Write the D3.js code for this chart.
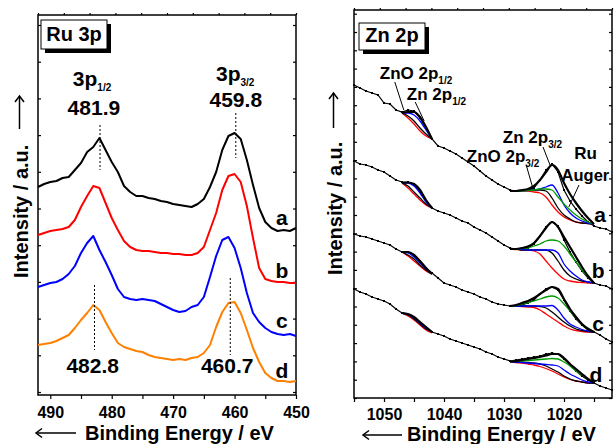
<!DOCTYPE html>
<html>
<head>
<meta charset="utf-8">
<script src="https://cdn.jsdelivr.net/npm/d3@7"></script>
<style>
  body { margin: 0; background: #fff; }
</style>
</head>
<body>
<svg id="chart" width="614" height="444"></svg>
<script>
// ---------- Ru 3p panel (left) : binding energy 492 -> 450 eV, 1 eV steps ----------
const ruEnergy = d3.range(492, 449, -1)
const ruA = [213,216,218,219,222,223,230,237,248,253, 262,250,238,228,214,208,204,204,202,201,
             199,198,196,195,194,193,196,201,213,228, 250,264,267,261,240,215,192,178,172,169, 170,169,172]
const ruB = [165,167,169,170,171,173,180,193,204,214, 212,197,182,170,159,153,150,149,149,148,
             147,147,146,146,145,145,147,153,170,187, 210,224,226,218,194,162,132,121,119,118, 118,117,117]
const ruC = [113,115,117,118,121,126,134,147,157,164, 150,138,125,111,103,101,100,101,100,99,
             96,93,90,88,89,93,95,103,123,144, 160,163,152,132,107,87,78,72,68,66, 65,66,64]
const ruD = [55,56,57,59,62,65,72,80,87,95, 90,78,67,57,53,51,49,48,45,43,
             42,41,40,41,40,42,43,47,55,73, 88,97,98,87,70,52,38,27,22,19, 19,18,19]
const ruNames = ["a", "b", "c", "d"]
const ruPeaksTop = [481.9, 459.8]
const ruPeaksBottom = [482.8, 460.7]

// ---------- Zn 2p panel (right) : binding energy 1055 -> 1012 eV ----------
const znEnergy = d3.range(1055, 1011, -1)
const znA = [315,312,309,307,305,297,296,290,288,290, 289,282,272,261,254,252,249,246,242,238,
             234,229,224,220,216,213,210,209,209,210, 212,220,230,236,228,210,199,191,184,178, 174,172,171,168]
const znB = [239,236,235,233,230,228,224,220,218,218, 216,208,199,192,189,187,185,182,179,177,
             173,170,167,163,159,155,152,151,151,152, 156,164,173,178,174,160,148,138,129,122, 117,115,114,111]
const znC = [166,164,163,161,159,157,155,151,148,148, 145,139,132,127,122,117,115,113,110,108,
             106,103,101,98,96,95,94,94,95,97, 100,106,111,113,110,100,89,81,75,70, 68,65,61,58]
const znD = [111,108,106,103,101,99,96,91,87,85, 82,77,72,68,66,64,61,59,57,55,
             53,51,48,46,43,41,39,40,41,42, 43,44,46,47,46,41,35,29,24,20, 17,14,12,10]

// fit windows: 2p1/2 (1047 -> 1042) and 2p3/2 + Ru Auger (1029 -> 1015)
const win1Energy = d3.range(1047, 1041, -1)
const win2Energy = d3.range(1029, 1014, -1)

const aEnv1 = [287,288,288,283,273,261], aZn1 = [287,287,285,279,270,261]
const aZnO1 = [287,284,279,272,266,261], aBg1 = [287,282,276,269,264,261]
const bEnv1 = [217,217.5,216,210,200,192], bZn1 = [217,217,214,207,198,192]
const bZnO1 = [217,214,208,202,196,192], bBg1 = [217,212,206,200,195,192]
const cEnv1 = [148,148,145,139,132,126], cZn1 = [148,147,143,137,131,126]
const cZnO1 = [148,145,141,135,130,126], cBg1 = [148,144,139,134,129,126]
const dEnv1 = [87,86,83,78,73,68], dZn1 = [87,85.5,82,77,72,68]
const dZnO1 = [87,85,81,76,71,68], dBg1 = [87,84,80,75,70,67]

const aEnv2 = [209,209,210,211,214,220,228,235,230,217,206,197,189,182,176]
const aAug2 = [209,209,209,209.5,210,211,211,210,203,196,190,185,181,178,176]
const aZn2  = [209,209,209,209.5,210,211,213,215,207,195,187,182,179,177,176]
const aZnO2 = [209,209,209.5,210,210,210,209,202,192,185,181,178,177,176.5,176]
const aBg2  = [209,209,209,209,208,207,203,195,188,183,180,178,177,176.5,176]
const bEnv2 = [151,151,152,153.5,157,164,172,178,173,163,153,143,133,124,117]
const bAug2 = [151,151,151.5,152,154,156,159,160,159,154,146,138,130,123,117]
const bZn2  = [151,151,150.5,150,150,150,150,150,147,136,129,124,120,118,117]
const bZnO2 = [151,151,150,150,150,150,150,147,139,130,124,121,119,118,117]
const bBg2  = [151,150.5,150,150,149,146,139,132,126,121,119,118,117.5,117,117]
const cEnv2 = [94,95,97,99,102,106,110,113,111,101,91,83,76,71,68]
const cAug2 = [94,94.5,96,97.5,99,101,103,104,102,96,89,82,76,72,68]
const cZn2  = [94,94,94,94,94,94,94,94.5,90,82,76,73,70.5,69,68]
const cZnO2 = [94,94,94,94,94,93.5,92,88,83,78,74,71,69.5,68.5,68]
const cBg2  = [94,94,93.5,93,92.5,90,86,82,78,74,71,69.5,68.5,68,68]
const dEnv2 = [38.5,39,40,41,42,43,44.5,46,46,42,36,31,26,21,17]
const dAug2 = [38.5,39,39,39.5,40,40.5,41,41.5,41,38,34,29,25,21,17]
const dZn2  = [38.5,38,37.5,37,36.5,36,35.5,35,34,30,26,23,20,18,17]
const dZnO2 = [38.5,38,38,37.5,37,36,34,31,28,24,21,19,18,17,17]
const dBg2  = [38.5,37.5,37,36,35,33.5,31.5,29,26,23,20.5,19,18,17,17]

const font = "'Liberation Sans', Arial, Helvetica, sans-serif"
const svg = d3.select("#chart")

function txt(g, x, y, main, sub, size, anchor) {
    let t = g.append("text")
        .attr("x", x).attr("y", y)
        .attr("text-anchor", anchor || "start")
        .style("font", `bold ${size}px ${font}`)
        .attr("fill", "#000")
    t.append("tspan").text(main)
    if (sub) t.append("tspan").attr("dy", 5).style("font-size", "10px").text(sub)
    return t
}

function arrow(g, x1, y1, x2, y2) {
    let ang = Math.atan2(y2 - y1, x2 - x1) * 180 / Math.PI
    g.append("line").attr("x1", x1).attr("y1", y1).attr("x2", x2).attr("y2", y2)
        .attr("stroke", "#000").attr("stroke-width", 1.5)
    g.append("path").attr("d", "M-6,-4.5L0,0L-6,4.5")
        .attr("transform", `translate(${x2},${y2}) rotate(${ang})`)
        .attr("fill", "none").attr("stroke", "#000").attr("stroke-width", 1.5)
}

function axes(x, y, tickE, tickV, pad) {
    let [xl, xr] = x.range(), [yb, yt] = y.range()
    let g = svg.append("g")
    g.append("g").attr("transform", `translate(0,${yb})`)
        .call(d3.axisBottom(x).tickValues(tickE).tickSize(4).tickPadding(pad)
            .tickFormat(d => d % 10 === 0 ? d : ""))
    let topScale = d3.scaleLinear().domain([0, 10]).range([xl, xr])
    g.append("g").attr("transform", `translate(0,${yt})`)
        .call(d3.axisTop(topScale).ticks(10).tickSize(2).tickFormat(""))
    g.append("g").attr("transform", `translate(${xl},0)`)
        .call(d3.axisLeft(y).tickValues(tickV).tickSize(-3).tickFormat(""))
    g.append("g").attr("transform", `translate(${xr},0)`)
        .call(d3.axisRight(y).tickValues(tickV).tickSize(-3).tickFormat(""))
    g.selectAll(".domain").remove()
    g.selectAll(".tick line").attr("stroke", "#000").attr("stroke-width", 1.2)
    g.selectAll(".tick text").attr("fill", "#000").style("font", `bold 16px ${font}`)
    g.append("rect").attr("x", xl).attr("y", yt).attr("width", xr - xl).attr("height", yb - yt)
        .attr("fill", "none").attr("stroke", "#000").attr("stroke-width", 1.5)
}

function boxLabel(x, y, w, h, label, size) {
    svg.append("rect").attr("x", x + 4).attr("y", y + 4).attr("width", w).attr("height", h).attr("fill", "#000")
    svg.append("rect").attr("x", x).attr("y", y).attr("width", w).attr("height", h)
        .attr("fill", "#fff").attr("stroke", "#000").attr("stroke-width", 1)
    txt(svg, x + w / 2, y + h - 8, label, null, size, "middle")
}

// ---------------- left panel ----------------
function drawRu() {
    let x = d3.scaleLinear().domain([492, 450]).range([38, 296])
    let y = d3.scaleLinear().domain([5, 385]).range([395, 15])
    axes(x, y, d3.range(490, 449, -5), d3.range(8, 385, 36.7), 8)

    let line = d3.line().x((d, i) => x(ruEnergy[i])).y(d => y(d))
    let series = [ruA, ruB, ruC, ruD]
    let colors = ["#000000", "#ff0000", "#0000ff", "#ff8000"]
    let g = svg.append("g")
    series.forEach((s, i) => {
        g.append("path").attr("d", line(s)).attr("fill", "none")
            .attr("stroke", colors[i]).attr("stroke-width", 2).attr("stroke-linejoin", "round")
    })

    // dotted peak markers
    let dots = [[ruPeaksTop[0], 275, 230], [ruPeaksTop[1], 287, 242],
                [ruPeaksBottom[0], 115, 50], [ruPeaksBottom[1], 122, 45]]
    dots.forEach(d => {
        g.append("line").attr("x1", x(d[0])).attr("x2", x(d[0]))
            .attr("y1", y(d[1])).attr("y2", y(d[2]))
            .attr("stroke", "#000").attr("stroke-width", 1).attr("stroke-dasharray", "2,2")
    })

    txt(g, x(483.2), y(314), "3p", "1/2", 21, "middle")
    txt(g, x(482.9), y(285), ruPeaksTop[0].toFixed(1), null, 21, "middle")
    txt(g, x(459.9), y(319), "3p", "3/2", 21, "middle")
    txt(g, x(459.8), y(293), ruPeaksTop[1].toFixed(1), null, 21, "middle")
    txt(g, x(483.1), y(27), ruPeaksBottom[0].toFixed(1), null, 21, "middle")
    txt(g, x(461.2), y(27), ruPeaksBottom[1].toFixed(1), null, 21, "middle")
    let letterV = [175, 122, 72, 22]
    ruNames.forEach((n, i) => txt(g, x(452.3), y(letterV[i]), n, null, 21, "middle"))

    boxLabel(41, 20, 66, 29, "Ru 3p", 20)
}

// ---------------- right panel ----------------
function drawZn() {
    let x = d3.scaleLinear().domain([1055, 1012]).range([354, 612])
    let y = d3.scaleLinear().domain([2, 390]).range([398, 10])
    axes(x, y, d3.range(1055, 1011, -5), d3.range(2, 390, 18.3), 7)

    let traces = [
        { raw: znA, w1: [aBg1, aZnO1, aZn1, aEnv1], w2: [aBg2, aZnO2, aZn2, aAug2, aEnv2] },
        { raw: znB, w1: [bBg1, bZnO1, bZn1, bEnv1], w2: [bBg2, bZnO2, bZn2, bAug2, bEnv2] },
        { raw: znC, w1: [cBg1, cZnO1, cZn1, cEnv1], w2: [cBg2, cZnO2, cZn2, cAug2, cEnv2] },
        { raw: znD, w1: [dBg1, dZnO1, dZn1, dEnv1], w2: [dBg2, dZnO2, dZn2, dAug2, dEnv2] }
    ]
    let rawLine = d3.line().x((d, i) => x(znEnergy[i])).y(d => y(d))
    let fit1 = d3.line().x((d, i) => x(win1Energy[i])).y(d => y(d)).curve(d3.curveMonotoneX)
    let fit2 = d3.line().x((d, i) => x(win2Energy[i])).y(d => y(d)).curve(d3.curveMonotoneX)
    let c1 = ["#ff0000", "#000000", "#0000ff", "#000000"]
    let c2 = ["#ff0000", "#000000", "#0000ff", "#009a00", "#000000"]

    let g = svg.append("g")
    traces.forEach(t => {
        g.append("path").attr("d", rawLine(t.raw)).attr("fill", "none")
            .attr("stroke", "#000").attr("stroke-width", 1.2)
        g.selectAll(null).data(t.raw).enter().append("rect")
            .attr("x", (d, i) => x(znEnergy[i]) - 1).attr("y", d => y(d) - 1)
            .attr("width", 2).attr("height", 2).attr("fill", "#000")
        t.w1.forEach((s, i) => {
            g.append("path").attr("d", fit1(s)).attr("fill", "none").attr("stroke", c1[i])
                .attr("stroke-width", i === t.w1.length - 1 ? 2.2 : 1.3)
        })
        t.w2.forEach((s, i) => {
            g.append("path").attr("d", fit2(s)).attr("fill", "none").attr("stroke", c2[i])
                .attr("stroke-width", i === t.w2.length - 1 ? 2.2 : 1.3)
        })
    })

    txt(g, x(1050.7), y(321), "ZnO 2p", "1/2", 17)
    txt(g, x(1046.2), y(300), "Zn 2p", "1/2", 17)
    txt(g, x(1030.2), y(257), "Zn 2p", "3/2", 17)
    txt(g, x(1036.2), y(238), "ZnO 2p", "3/2", 17)
    txt(g, x(1018.3), y(241), "Ru", null, 17)
    txt(g, x(1020.4), y(219), "Auger", null, 16.5)

    let leaders = [[1048.2, 318, 1046.7, 290], [1044.8, 298, 1043.3, 279],
                   [1023.5, 253, 1022.2, 233], [1026.3, 235, 1025.2, 212], [1017.5, 215, 1019.2, 193]]
    leaders.forEach(l => {
        g.append("line").attr("x1", x(l[0])).attr("y1", y(l[1])).attr("x2", x(l[2])).attr("y2", y(l[3]))
            .attr("stroke", "#000").attr("stroke-width", 1)
    })

    let letterPos = [[1014, 178], [1014.3, 122], [1014.3, 69], [1014.7, 18]]
    ruNames.forEach((n, i) => txt(g, x(letterPos[i][0]), y(letterPos[i][1]), n, null, 21, "middle"))

    boxLabel(359, 23, 66, 27, "Zn 2p", 20)
}

function drawTitles() {
    let g = svg.append("g")
    // y titles
    g.append("text").attr("transform", "translate(28,278) rotate(-90)")
        .style("font", `bold 20px ${font}`).text("Intensity / a.u.")
    arrow(g, 19.5, 129, 19.5, 96)
    g.append("text").attr("transform", "translate(342,275) rotate(-90)")
        .style("font", `bold 20px ${font}`).text("Intensity / a.u.")
    arrow(g, 333.5, 128, 333.5, 93)
    // x titles
    g.append("text").attr("x", 85).attr("y", 440)
        .style("font", `bold 20px ${font}`).text("Binding Energy / eV")
    arrow(g, 76, 433, 36, 433)
    g.append("text").attr("x", 407).attr("y", 441)
        .style("font", `bold 20px ${font}`).text("Binding Energy / eV")
    arrow(g, 402, 435, 363, 435)
}

drawRu()
drawZn()
drawTitles()
</script>
</body>
</html>
